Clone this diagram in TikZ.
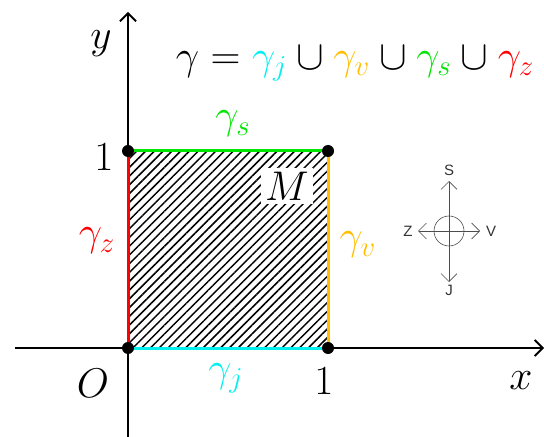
\documentclass[tikz,border=0pt]{standalone}
\usepackage{fontspec}
\newfontfamily\compfont{Liberation Sans}
\usetikzlibrary{patterns.meta,arrows.meta}
\DeclareMathSizes{20}{20}{15}{11}
\DeclareMathSizes{19.5}{19.5}{14.5}{11}
\definecolor{cj}{RGB}{0,240,240}
\definecolor{cv}{RGB}{255,190,0}
\definecolor{cs}{RGB}{0,230,0}
\definecolor{cz}{RGB}{255,0,0}
\begin{document}
\begin{tikzpicture}[x=0.5pt,y=-0.5pt,
  lbl/.style={font=\fontsize{20}{23}\selectfont, inner sep=1pt},
  dotnode/.style={circle,fill=black,inner sep=0pt,minimum size=6pt},
  axis/.style={line width=0.8pt,-{Straight Barb[length=4pt,width=8pt,line width=0.9pt]}},
  edge/.style={line width=1.5pt},
  comp/.style={line width=0.3pt,draw=black!70,-{Straight Barb[length=4pt,width=8pt,line width=0.3pt]}},
  cl/.style={font=\compfont\fontsize{7.5}{9}\selectfont,text=black!80,inner sep=0pt}]
\useasboundingbox (0,0) rectangle (544,437);
% key points
\coordinate (O) at (128,348);
\coordinate (A) at (328,348);
\coordinate (B) at (328,151);
\coordinate (C) at (128,151);
\coordinate (xs) at (15,348);
\coordinate (xe) at (544,348);
\coordinate (ys) at (128,437);
\coordinate (ye) at (128,12);
% hatched square
\fill[pattern={Lines[angle=45,distance=3.1pt,line width=0.75pt]}] (O) rectangle (B);
% axes
\draw[axis] (xs) -- (xe);
\draw[axis] (ys) -- (ye);
% edges
\draw[edge,cj] (O) -- (A);
\draw[edge,cv] (A) -- (B);
\draw[edge,cs] (B) -- (C);
\draw[edge,cz] (C) -- (O);
% dots
\node[dotnode] (dO) at (O) {};
\node[dotnode] (dA) at (A) {};
\node[dotnode] (dB) at (B) {};
\node[dotnode] (dC) at (C) {};
% labels
\node[lbl] (ylab) at (101,44) {$y$};
\node[lbl] (xlab) at (521,381) {$x$};
\node[lbl] (Olab) at (93,383) {$O$};
\node[lbl] (one1) at (324,381) {$1$};
\node[lbl] (one2) at (104,157) {$1$};
\node[lbl,font=\fontsize{19.5}{23}\selectfont] (eq) at (355,64) {$\gamma = {\color{cj}\gamma_j} \cup {\color{cv}\gamma_v} \cup {\color{cs}\gamma_s} \cup {\color{cz}\gamma_z}$};
\node[lbl,text=cs] (gs) at (233,124) {$\gamma_s$};
\node[lbl,text=cz] (gz) at (97,241) {$\gamma_z$};
\node[lbl,text=cv] (gv) at (358,245) {$\gamma_v$};
\node[lbl,text=cj] (gj) at (226,378) {$\gamma_j$};
\node[lbl,fill=white,inner sep=2pt] (M) at (287,186) {$M$};
% compass
\coordinate (cc) at (449,231);
\node[circle,draw=black!70,line width=0.3pt,minimum size=15pt,inner sep=0pt] (circ) at (cc) {};
\coordinate (cn) at (449,181);
\coordinate (cso) at (449,282);
\coordinate (cw) at (418,231);
\coordinate (ce) at (480,231);
\draw[comp] (cc) -- (cn);
\draw[comp] (cc) -- (cso);
\draw[comp] (cc) -- (cw);
\draw[comp] (cc) -- (ce);
\node[cl] (S) at (449,170) {S};
\node[cl] (J) at (449,290) {J};
\node[cl] (Z) at (408,231) {Z};
\node[cl] (V) at (491,231) {V};
\end{tikzpicture}
\end{document}
